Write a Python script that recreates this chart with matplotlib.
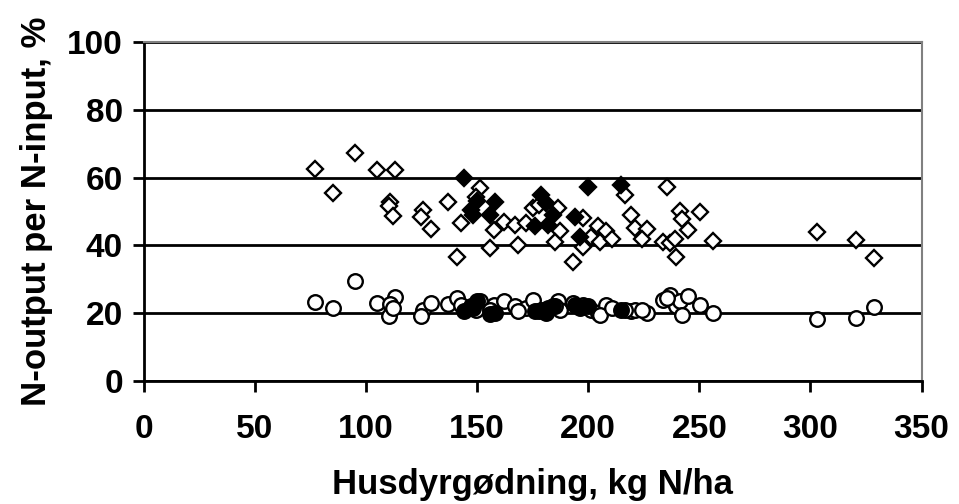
import numpy as np
import matplotlib.pyplot as plt

plt.rcParams['font.family'] = ['Liberation Sans', 'DejaVu Sans']
plt.rcParams['font.weight'] = 'bold'

# manure input (kg N/ha) and N-output share (%) for each farm
x_open = [77, 85, 95, 105, 113, 110.7, 110.3, 112.1, 125.6, 124.6, 129.4, 136.9,
          141.1, 142.9, 151.1, 149.3, 157.6, 155.6, 162.1, 166.9, 172.1, 168.4,
          175.1, 186.4, 187.1, 184.9, 197.6, 193.1, 197.6, 201.4, 204.4, 208.1,
          205.1, 210.8, 219.1, 220.9, 226.6, 224.3, 233.6, 236.6, 238.9, 239.6,
          241.1, 242.3, 244.9, 250.1, 256.1, 303.1, 320.5, 328.4, 235.6, 216.4,
          178.0]
y_open_d = [62.4, 55.4, 67.2, 62.2, 62.2, 52.9, 51.7, 48.7, 50.4, 48.5, 44.7, 52.7,
            36.5, 46.7, 56.8, 54.4, 44.5, 39.1, 47.0, 46.0, 46.5, 40.1,
            50.9, 50.9, 44.3, 41.1, 48.0, 35.2, 39.4, 42.6, 45.7, 44.3,
            41.1, 41.8, 49.0, 45.0, 44.7, 41.8, 41.1, 40.6, 41.8, 36.7,
            50.2, 47.7, 44.5, 49.9, 41.3, 43.9, 41.6, 36.4, 57.1, 54.9,
            52.0]
y_open_c = [23.4, 21.6, 29.5, 23.1, 24.7, 22.7, 19.3, 21.5, 20.9, 19.3, 22.9, 22.7,
            24.4, 22.3, 23.5, 21.0, 22.5, 21.0, 23.6, 22.0, 21.5, 20.5,
            23.8, 23.5, 21.0, 22.0, 22.5, 23.0, 21.8, 21.0, 20.0, 22.5,
            19.5, 21.5, 20.5, 21.0, 20.0, 21.0, 24.0, 25.5, 23.0, 22.0,
            23.5, 19.5, 25.0, 22.4, 20.1, 18.3, 18.5, 21.7, 24.5, 21.0,
            20.5]

x_fill = [144.1, 148.1, 150.0, 155.6, 158.0, 147.0, 178.9, 181.0, 184.2, 175.9,
          181.9, 193.9, 196.1, 199.9, 214.6]
y_fill_d = [60.0, 49.0, 53.0, 49.0, 52.9, 50.5, 54.9, 52.5, 49.0, 45.7,
            46.0, 48.3, 42.4, 57.1, 57.8]
y_fill_c = [20.5, 21.5, 23.5, 19.8, 20.0, 22.0, 21.0, 20.0, 22.0, 20.5,
            21.5, 22.5, 21.5, 22.0, 21.0]

fig = plt.figure(figsize=(9.59, 5.04), dpi=100)
ax = fig.add_axes([0.150, 0.244, 0.811, 0.673])

ax.plot(x_open, y_open_d, linestyle='none', marker='D', markersize=8.5,
        markerfacecolor='white', markeredgecolor='black', markeredgewidth=1.7)
ax.plot(x_fill, y_fill_d, linestyle='none', marker='D', markersize=8.5,
        markerfacecolor='black', markeredgecolor='black', markeredgewidth=1.7)
ax.plot(x_open, y_open_c, linestyle='none', marker='o', markersize=10.5,
        markerfacecolor='white', markeredgecolor='black', markeredgewidth=1.7)
ax.plot(x_fill, y_fill_c, linestyle='none', marker='o', markersize=10.5,
        markerfacecolor='black', markeredgecolor='black', markeredgewidth=1.7)

ax.set_xlim(0, 350)
ax.set_ylim(0, 100)
ax.set_xticks(np.arange(0, 351, 50))
ax.set_yticks(np.arange(0, 101, 20))
ax.yaxis.grid(True, color='black', linewidth=2)
ax.set_axisbelow(True)

for side in ['top', 'right']:
    ax.spines[side].set_color('#808080')
    ax.spines[side].set_linewidth(1.5)
for side in ['left', 'bottom']:
    ax.spines[side].set_color('black')
    ax.spines[side].set_linewidth(2)

ax.tick_params(direction='out', length=8, width=2, labelsize=24)
ax.tick_params(axis='x', pad=16)
ax.tick_params(axis='y', pad=7)

ax.set_xlabel('Husdyrgødning, kg N/ha', fontsize=25, fontweight='bold', labelpad=16)
ax.set_ylabel('N-output per N-input, %', fontsize=25, fontweight='bold', labelpad=10)

fig.savefig('out.png', dpi=100)
